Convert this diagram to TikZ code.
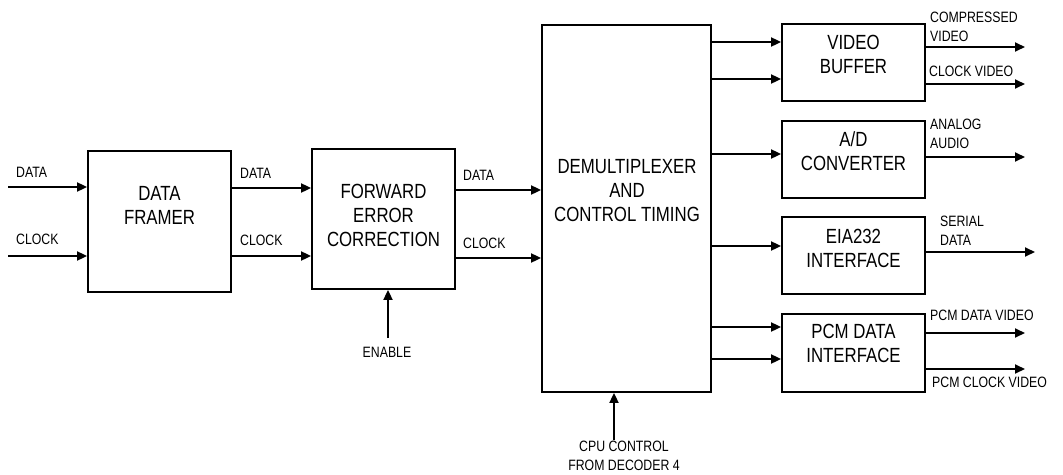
\documentclass[tikz,border=0pt]{standalone}
\usepackage{fontspec}
\setmainfont{Liberation Sans}[FakeStretch=0.82]
\usetikzlibrary{arrows.meta,positioning}

\begin{document}
\begin{tikzpicture}[
  x=1pt,y=-1pt,
  >={Triangle[length=10pt,width=9pt]},
  block/.style={draw,line width=1.8pt,inner sep=0pt},
  blocktext/.style={align=center,inner sep=0pt,font=\fontsize{20.5}{24}\selectfont},
  sig/.style={->,line width=1.8pt},
  lab/.style={align=left,inner sep=0pt,anchor=west,font=\fontsize{15}{19}\selectfont}
]
  \useasboundingbox (0,0) rectangle (1063,474);

  % blocks
  \node[block,minimum width=143pt,minimum height=141pt] (framer) at (159.5,221.5) {};
  \node[block,minimum width=143pt,minimum height=140pt] (fec) at (383.5,219) {};
  \node[block,minimum width=169pt,minimum height=367pt] (dmx) at (626.5,208.5) {};
  \node[block,minimum width=143pt,minimum height=77pt] (vbuf) at (853.5,62.5) {};
  \node[block,minimum width=143pt,minimum height=77pt] (adc) at (853.5,159.5) {};
  \node[block,minimum width=143pt,minimum height=77pt] (eia) at (853.5,255.5) {};
  \node[block,minimum width=143pt,minimum height=78pt] (pcm) at (853.5,353) {};

  \node[blocktext] (framertext) at (159.5,205) {DATA\\FRAMER};
  \node[blocktext] (fectext) at (383.5,215) {FORWARD\\ERROR\\CORRECTION};
  \node[blocktext] (dmxtext) at (627,191) {DEMULTIPLEXER\\AND\\CONTROL TIMING};
  \node[blocktext] (vbuftext) at (853.5,54) {VIDEO\\BUFFER};
  \node[blocktext] (adctext) at (853.5,151) {A/D\\CONVERTER};
  \node[blocktext] (eiatext) at (853.5,248) {EIA232\\INTERFACE};
  \node[blocktext] (pcmtext) at (853.5,343.5) {PCM DATA\\INTERFACE};

  % inputs
  \coordinate (datain) at (8,187);
  \coordinate (clkin) at (8,256);
  \coordinate (enable) at (388,338);
  \coordinate (cpu) at (614,440);
  \draw[sig] (datain) -- (framer.west |- datain);
  \draw[sig] (clkin) -- (framer.west |- clkin);
  \draw[sig] (framer.east |- 0,188) -- (fec.west |- 0,188);
  \draw[sig] (framer.east |- 0,256) -- (fec.west |- 0,256);
  \draw[sig] (fec.east |- 0,190) -- (dmx.west |- 0,190);
  \draw[sig] (fec.east |- 0,258) -- (dmx.west |- 0,258);
  \draw[sig] (enable) -- (enable |- fec.south);
  \draw[sig] (cpu) -- (cpu |- dmx.south);

  % demux to outputs
  \draw[sig] (dmx.east |- 0,42) -- (vbuf.west |- 0,42);
  \draw[sig] (dmx.east |- 0,79) -- (vbuf.west |- 0,79);
  \draw[sig] (dmx.east |- 0,154) -- (adc.west |- 0,154);
  \draw[sig] (dmx.east |- 0,246) -- (eia.west |- 0,246);
  \draw[sig] (dmx.east |- 0,327) -- (pcm.west |- 0,327);
  \draw[sig] (dmx.east |- 0,359) -- (pcm.west |- 0,359);

  % outputs
  \coordinate (cvout) at (1025,47);
  \coordinate (ckout) at (1025,84);
  \coordinate (audout) at (1025,157);
  \coordinate (serout) at (1035,252);
  \coordinate (pdout) at (1025,333);
  \coordinate (pcout) at (1025,369);
  \draw[sig] (vbuf.east |- cvout) -- (cvout);
  \draw[sig] (vbuf.east |- ckout) -- (ckout);
  \draw[sig] (adc.east |- audout) -- (audout);
  \draw[sig] (eia.east |- serout) -- (serout);
  \draw[sig] (pcm.east |- pdout) -- (pdout);
  \draw[sig] (pcm.east |- pcout) -- (pcout);

  % signal labels
  \node[lab] (ldatain) at (16,172) {DATA};
  \node[lab] (lclkin) at (16,239) {CLOCK};
  \node[lab] (ldata1) at (240,173) {DATA};
  \node[lab] (lclk1) at (240,240) {CLOCK};
  \node[lab] (ldata2) at (463,175) {DATA};
  \node[lab] (lclk2) at (463,243) {CLOCK};
  \node[lab,anchor=center] (lenable) at (387,352) {ENABLE};
  \node[lab,anchor=center,align=center] (lcpu) at (624,455.5) {CPU CONTROL\\FROM DECODER 4};
  \node[lab] (lcv) at (930,26.5) {COMPRESSED\\VIDEO};
  \node[lab] (lck) at (929,71) {CLOCK VIDEO};
  \node[lab] (laud) at (930,133.5) {ANALOG\\AUDIO};
  \node[lab] (lser) at (940,230.5) {SERIAL\\DATA};
  \node[lab] (lpd) at (930,315) {PCM DATA VIDEO};
  \node[lab] (lpc) at (932,382) {PCM CLOCK VIDEO};
\end{tikzpicture}
\end{document}
